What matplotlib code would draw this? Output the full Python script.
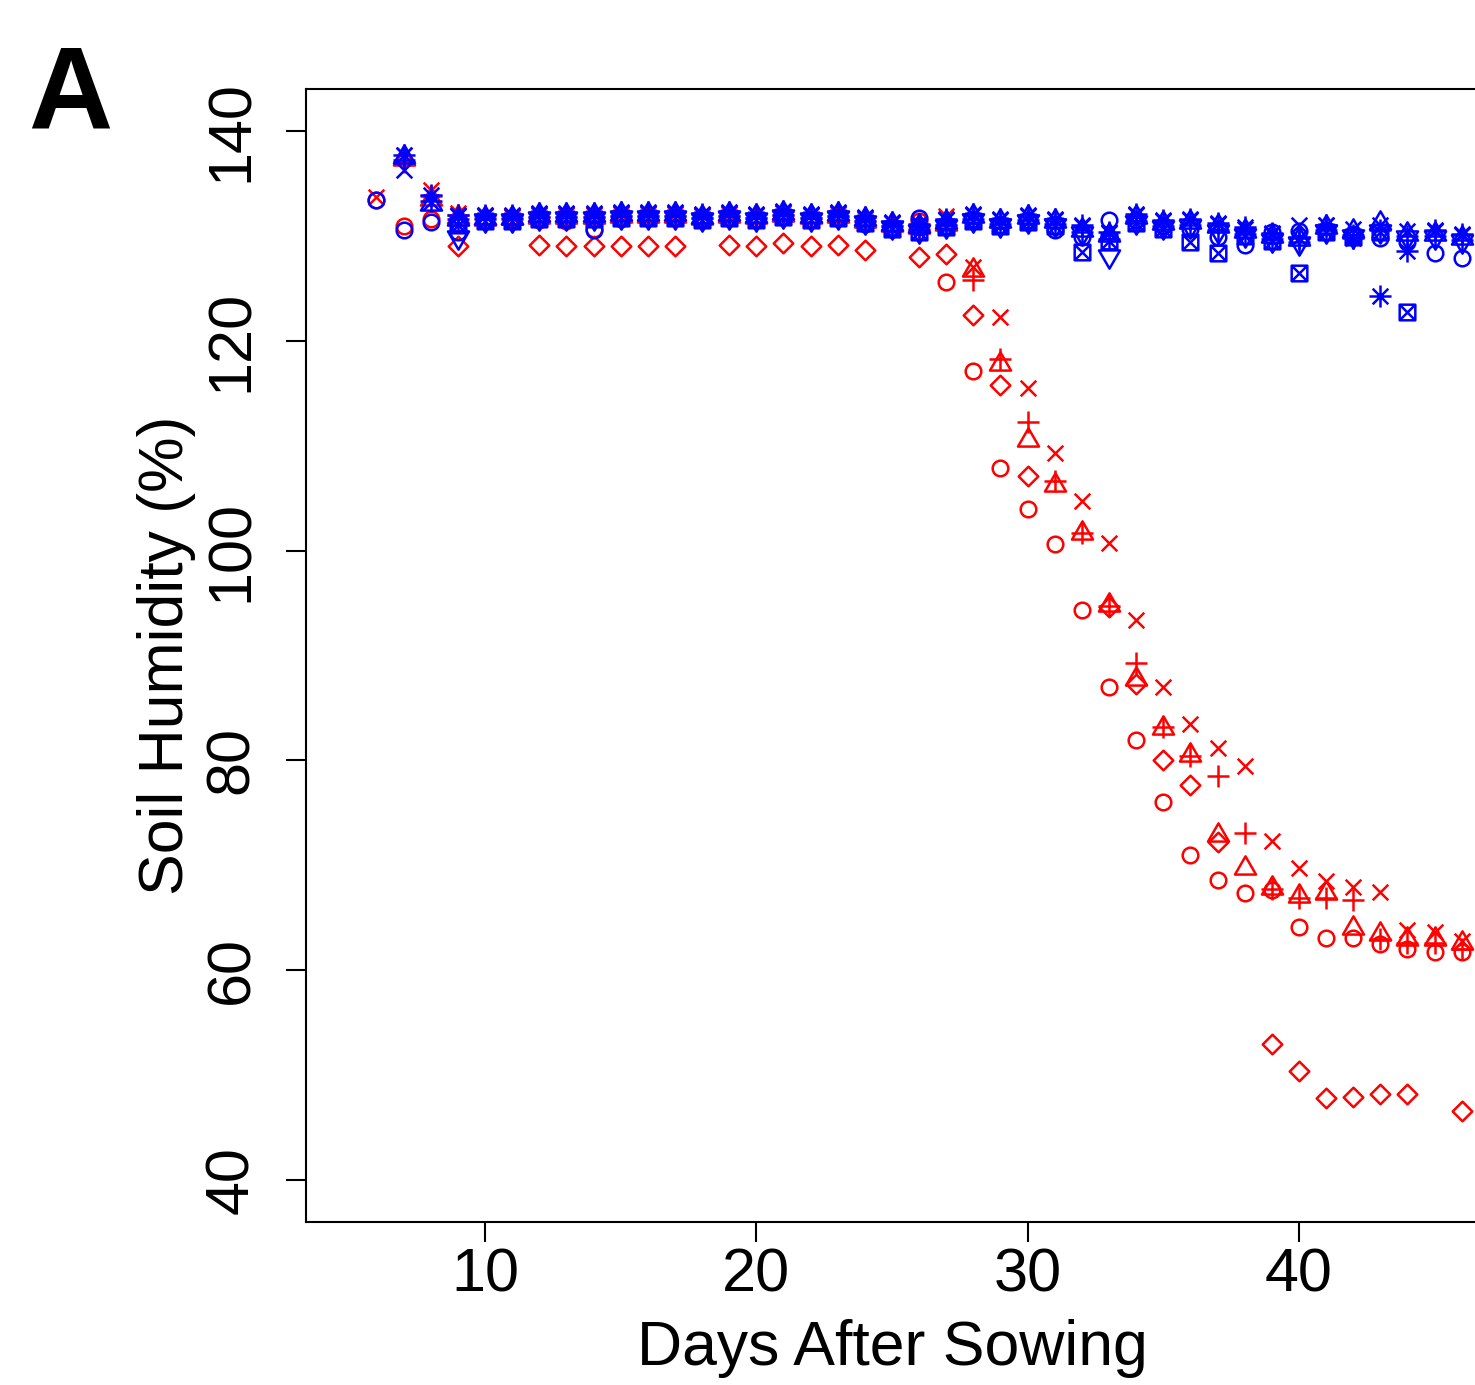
import numpy as np
import matplotlib
matplotlib.use("Agg")
import matplotlib.pyplot as plt
from matplotlib.path import Path

plt.rcParams['font.family'] = ['Liberation Sans', 'DejaVu Sans']

# ---------------- data ----------------
days = list(range(6, 47))
nan = None

# drought (red) plants
red_circle = [133.4, 130.9, 131.6, 131.2, 131.5, 131.6, 131.5, 131.4, 130.7, 131.6,
              131.7, 131.7, 131.6, 131.7, 131.6, 131.8, 131.6, 131.7, 131.3, 130.7,
              131.4, 125.6, 117.1, 107.9, 104.0, 100.6, 94.3, 87.0, 81.9, 76.0,
              71.0, 68.6, 67.4, 67.6, 64.1, 63.1, 63.1, 62.5, 62.0, 61.7, 61.7]
red_triangle = [nan, 137.3, 133.5, 131.8, 131.6, 131.7, 131.8, 131.8, 131.8, 131.9,
                131.9, 131.9, 131.7, 131.9, 131.8, 132.0, 131.8, 131.9, 131.4, 131.0,
                130.8, 131.1, 126.7, 117.8, 110.5, 106.3, 101.7, 94.8, 87.8, 83.1,
                80.5, 72.9, 69.7, 67.8, 67.1, 67.4, 64.0, 63.5, 63.0, 63.0, 62.6]
red_plus = [nan, 137.0, 133.8, 132.0, 131.7, 131.7, 131.8, 131.8, 131.8, 131.9,
            131.9, 131.9, 131.7, 131.9, 131.7, 132.0, 131.7, 131.9, 131.4, 130.9,
            130.7, 131.0, 125.8, 118.3, 112.3, 106.6, 101.7, 94.7, 89.3, 83.2,
            80.4, 78.5, 73.1, 67.7, 66.9, 66.9, 66.7, 63.0, 62.6, 62.6, 62.0]
red_cross = [133.7, 137.7, 134.4, 132.2, 132.0, 131.8, 132.0, 132.0, 132.0, 132.1,
             132.1, 132.1, 131.9, 132.1, 132.0, 132.2, 132.0, 132.1, 131.6, 131.2,
             131.2, 131.9, 127.0, 122.3, 115.5, 109.3, 104.7, 100.7, 93.4, 87.0,
             83.5, 81.2, 79.5, 72.3, 69.7, 68.5, 67.9, 67.5, 63.8, 63.6, 62.8]
red_diamond = [nan, nan, nan, 129.0, nan, nan, 129.1, 129.0, 129.0, 129.0,
               129.0, 129.0, nan, 129.1, 129.0, 129.3, 129.0, 129.1, 128.7, nan,
               128.0, 128.3, 122.5, 115.8, 107.1, nan, nan, 94.6, 87.3, 80.0,
               77.7, 72.2, nan, 53.0, 50.4, 47.8, 47.9, 48.2, 48.2, nan, 46.6]

# control (blue) plants
blue_circle = [133.4, 130.6, 131.3, 130.4, 131.4, 131.5, 131.6, 131.6, 130.6, 131.7,
               131.7, 131.7, 131.6, 131.7, 131.5, 131.8, 131.5, 131.7, 131.1, 130.7,
               131.7, 130.9, 131.6, 131.0, 131.5, 130.6, 129.9, 131.5, 131.5, 130.9,
               130.7, 129.9, 129.1, 130.4, 130.5, 130.4, 130.1, 129.8, 129.4, 128.4, 127.9]
blue_triangle = [nan, 137.5, 133.0, 131.6, 131.7, 131.7, 132.0, 132.0, 132.0, 132.1,
                 132.1, 132.1, 131.8, 132.1, 131.9, 132.2, 131.9, 132.1, 131.6, 131.1,
                 130.9, 131.3, 131.9, 131.4, 131.8, 131.4, 130.6, 130.1, 131.8, 131.2,
                 131.3, 130.9, 130.5, 130.0, 129.7, 130.8, 130.5, 131.2, 130.2, 130.2, 129.8]
blue_plus = [nan, 137.2, 133.3, 131.6, 131.6, 131.6, 131.8, 131.8, 131.8, 131.9,
             131.9, 131.9, 131.7, 131.9, 131.7, 132.0, 131.7, 131.9, 131.4, 130.9,
             130.6, 131.0, 131.6, 131.1, 131.5, 131.1, 130.4, 129.7, 131.4, 130.9,
             131.0, 130.6, 130.2, 129.7, 129.4, 130.6, 130.1, 130.6, 130.0, 130.0, 129.6]
blue_cross = [nan, 136.3, 133.2, 131.9, 131.9, 131.9, 132.1, 132.1, 132.1, 132.2,
              132.2, 132.2, 132.0, 132.2, 132.0, 132.3, 132.0, 132.2, 131.7, 131.2,
              131.0, 131.5, 132.0, 131.5, 131.9, 131.5, 130.9, 130.3, 132.0, 131.4,
              131.5, 131.1, 130.7, 130.2, 131.0, 131.0, 130.7, 131.0, 130.5, 130.5, 130.1]
blue_invtriangle = [nan, nan, nan, 129.9, 131.5, 131.5, 131.7, 131.7, 131.7, 131.8,
                    131.8, 131.8, 131.6, 131.8, 131.6, 131.9, 131.6, 131.8, 131.3, 130.8,
                    130.5, 130.9, 131.5, 131.0, 131.4, 131.0, 130.3, 128.1, 131.3, 130.8,
                    130.9, 130.5, 130.1, 129.6, 129.3, 130.5, 130.0, 130.5, 129.9, 129.9, 129.5]
blue_boxcross = [nan, nan, nan, 131.0, 131.4, 131.4, 131.6, 131.6, 131.6, 131.7,
                 131.7, 131.7, 131.5, 131.7, 131.5, 131.8, 131.5, 131.7, 131.2, 130.7,
                 130.4, 130.8, 131.4, 130.9, 131.3, 130.9, 128.5, 129.5, 131.2, 130.7,
                 129.4, 128.4, 130.0, 129.5, 126.5, 130.4, 129.9, 130.4, 122.7, nan, nan]
blue_asterisk = [nan, 137.7, 133.9, 132.0, 132.0, 132.0, 132.2, 132.2, 132.2, 132.3,
                 132.3, 132.3, 132.1, 132.3, 132.1, 132.4, 132.1, 132.3, 131.8, 131.3,
                 131.1, 131.6, 132.1, 131.6, 132.0, 131.6, 131.0, 130.4, 132.1, 131.5,
                 131.6, 131.2, 130.8, 130.3, 129.8, 131.0, 129.8, 124.3, 128.6, 130.6, 130.2]

x_ticks = [10, 20, 30, 40]
y_ticks = [40, 60, 80, 100, 120, 140]
x_label = "Days After Sowing"
y_label = "Soil Humidity (%)"
panel = "A"

# ---------------- R-like plotting symbols ----------------
RAD = 0.375
S_PT = 15.0  # symbol size (cex * ps) in points


def make_marker(kind):
    M, L, C = Path.MOVETO, Path.LINETO, Path.CLOSEPOLY
    if kind == 'circle':
        p = Path.circle((0, 0), RAD)
        return p, 2 * RAD * S_PT
    if kind in ('tri', 'invtri'):
        r = 1.5551 * RAD
        xc = 1.3468 * RAD
        yc = 0.7776 * RAD
        s = 1 if kind == 'tri' else -1
        v = [(0, s * r), (xc, -s * yc), (-xc, -s * yc), (0, s * r)]
        return Path(v, [M, L, L, C]), 2 * r * S_PT
    if kind == 'plus':
        h = np.sqrt(2) * RAD
        v = [(-h, 0), (h, 0), (0, -h), (0, h)]
        return Path(v, [M, L, M, L]), 2 * h * S_PT
    if kind == 'cross':
        h = RAD
        v = [(-h, -h), (h, h), (-h, h), (h, -h)]
        return Path(v, [M, L, M, L]), 2 * h * S_PT
    if kind == 'diamond':
        h = 1.2533 * RAD
        v = [(0, h), (h, 0), (0, -h), (-h, 0), (0, h)]
        return Path(v, [M, L, L, L, C]), 2 * h * S_PT
    if kind == 'asterisk':
        h = RAD
        g = np.sqrt(2) * RAD
        v = [(-h, -h), (h, h), (-h, h), (h, -h), (-g, 0), (g, 0), (0, -g), (0, g)]
        return Path(v, [M, L, M, L, M, L, M, L]), 2 * g * S_PT
    if kind == 'boxcross':
        h = RAD
        v = [(-h, -h), (h, -h), (h, h), (-h, h), (-h, -h),
             (-h, -h), (h, h), (-h, h), (h, -h)]
        return Path(v, [M, L, L, L, C, M, L, M, L]), 2 * h * S_PT


def arr(v):
    return np.array([np.nan if a is None else a for a in v], dtype=float)


RED = '#FF0000'
BLUE = '#0000FF'

series = [
    (red_circle, 'circle', RED),
    (red_triangle, 'tri', RED),
    (red_plus, 'plus', RED),
    (red_cross, 'cross', RED),
    (red_diamond, 'diamond', RED),
    (blue_circle, 'circle', BLUE),
    (blue_triangle, 'tri', BLUE),
    (blue_plus, 'plus', BLUE),
    (blue_cross, 'cross', BLUE),
    (blue_invtriangle, 'invtri', BLUE),
    (blue_boxcross, 'boxcross', BLUE),
    (blue_asterisk, 'asterisk', BLUE),
]

W, H = 1475, 1385
fig = plt.figure(figsize=(W / 100, H / 100), dpi=100)
ax = fig.add_axes([306 / W, 163 / H, 1172 / W, 1133 / H])

for vals, kind, col in series:
    path, ms = make_marker(kind)
    ax.plot(days, arr(vals), linestyle='none', marker=path, markersize=ms,
            markerfacecolor='none', markeredgecolor=col, markeredgewidth=1.8)

ax.set_xlim(3.403, 46.60)
ax.set_ylim(36.0, 144.0)
ax.set_xticks(x_ticks)
ax.set_yticks(y_ticks)
ax.set_xticklabels([str(t) for t in x_ticks])
ax.set_yticklabels([str(t) for t in y_ticks], rotation=90, va='center')

for sp in ax.spines.values():
    sp.set_linewidth(1.5)
    sp.set_color('black')

ax.tick_params(axis='both', direction='out', length=14.4, width=1.5,
               labelsize=44, colors='black')
ax.tick_params(axis='x', pad=4)
ax.tick_params(axis='y', pad=18)

ax.set_xlabel(x_label, fontsize=45)
ax.set_ylabel(y_label, fontsize=45)
ax.xaxis.set_label_coords(0.5, -0.086)
ax.yaxis.set_label_coords(-0.094, 0.5)

fig.text(28 / W, 1 - 128 / H, panel, fontsize=84, fontweight='bold',
         ha='left', va='baseline')

fig.savefig('out.png', dpi=100)
